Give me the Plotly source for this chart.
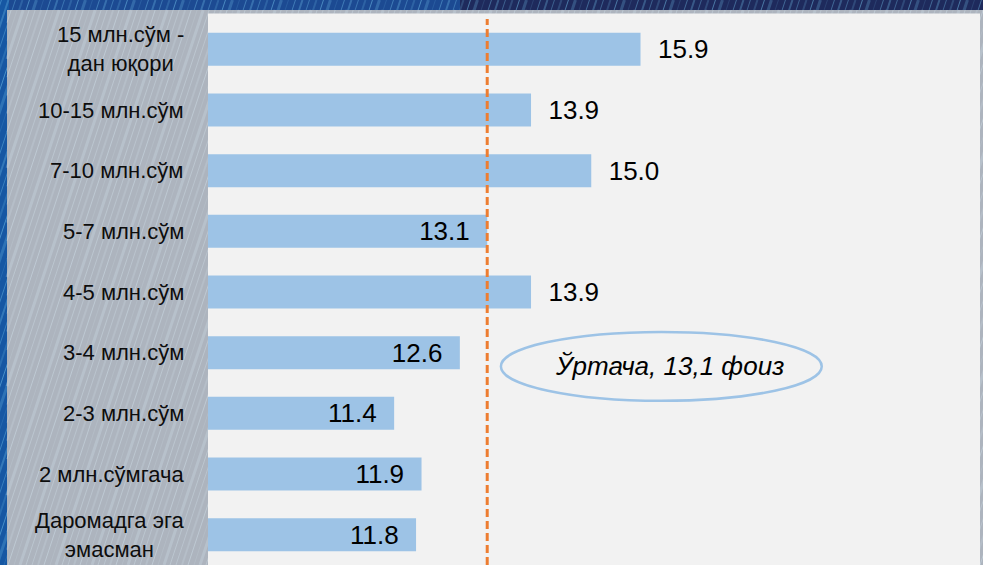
import plotly.graph_objects as go

categories = [
    "15 млн.сўм -<br>дан юқори",
    "10-15 млн.сўм",
    "7-10 млн.сўм",
    "5-7 млн.сўм",
    "4-5 млн.сўм",
    "3-4 млн.сўм",
    "2-3 млн.сўм",
    "2 млн.сўмгача",
    "Даромадга эга<br>эмасман",
]
values = [15.9, 13.9, 15.0, 13.1, 13.9, 12.6, 11.4, 11.9, 11.8]
average = 13.1
average_label = "Ўртача, 13,1 фоиз"

W, H = 983, 565
L, R, T, B = 208, 3, 19, 0
PW, PH = W - L - R, H - T - B

def px(X):
    return (X - L) / PW

def py(Y):
    return (H - B - Y) / PH

FONT = "Liberation Sans"
NB = "\u00a0"

positions = ["inside" if v <= average else "outside" for v in values]
texts = [(f"{v:.1f}" + NB * 2) if p == "inside" else (NB * 2 + f"{v:.1f}")
         for v, p in zip(values, positions)]

fig = go.Figure()
fig.add_trace(go.Bar(
    x=values, y=list(range(len(categories))), orientation="h",
    marker=dict(color="#9dc3e6", line=dict(width=0)),
    text=texts, textposition=positions, insidetextanchor="end",
    constraintext="none", cliponaxis=False,
    textfont=dict(family=FONT, size=26, color="#000000"),
    width=0.545, hoverinfo="skip",
))

shapes = []
# decorative background
shapes.append(dict(type="rect", xref="paper", yref="paper", x0=px(0), x1=px(460), y0=py(0), y1=py(12),
                   fillcolor="#1c4a92", line=dict(width=0), layer="below"))
shapes.append(dict(type="rect", xref="paper", yref="paper", x0=px(0), x1=px(9), y0=py(0), y1=py(H),
                   fillcolor="#1657a3", line=dict(width=0), layer="below"))
# stripes over the borders
for i, X in enumerate(range(-220, 1000, 7)):
    w = [1, 2, 1, 3, 1, 1, 2][i % 7]
    op = [0.35, 0.2, 0.5, 0.25, 0.15, 0.4, 0.3][i % 7]
    shapes.append(dict(type="line", xref="paper", yref="paper",
                       x0=px(X), y0=py(H), x1=px(X + 0.33 * H), y1=py(0),
                       line=dict(color=f"rgba(120,200,240,{op})", width=w), layer="below"))
# grey panel
shapes.append(dict(type="rect", xref="paper", yref="paper", x0=px(7), x1=px(W + 5), y0=py(10), y1=py(H + 5),
                   fillcolor="#adb4be", line=dict(width=0), layer="below"))
for i, X in enumerate(range(-220, 1000, 6)):
    w = [1, 2, 1, 1, 3, 1][i % 6]
    op = [0.3, 0.2, 0.4, 0.15, 0.25, 0.35][i % 6]
    x0, y0, x1, y1 = X, H, X + 0.33 * (H - 10), 10
    if x1 < 7:
        continue
    if x0 < 7:
        y0 = H - (7 - x0) / 0.33
        x0 = 7
    shapes.append(dict(type="line", xref="paper", yref="paper",
                       x0=px(x0), y0=py(y0), x1=px(x1), y1=py(y1),
                       line=dict(color=f"rgba(215,232,242,{op})", width=w), layer="below"))
# plot area
shapes.append(dict(type="rect", xref="paper", yref="paper", x0=0, x1=1, y0=0, y1=1.01,
                   fillcolor="#f2f2f2", line=dict(width=0), layer="below"))
# average line
shapes.append(dict(type="line", xref="x", yref="paper", x0=average, x1=average, y0=0, y1=1,
                   line=dict(color="#ed7d31", width=3, dash="8px,4px"), layer="above"))
# ellipse callout
shapes.append(dict(type="circle", xref="x", yref="y", x0=13.35, x1=19.21, y0=4.658, y1=5.794,
                   line=dict(color="#9dc3e6", width=2.5), fillcolor="rgba(0,0,0,0)", layer="above"))

annotations = []
for i, c in enumerate(categories):
    annotations.append(dict(x=0, xref="paper", y=i, yref="y", text=c, showarrow=False,
                            xanchor="right", yanchor="middle", xshift=-22, align="center",
                            font=dict(family=FONT, size=22, color="#0d0d0d")))
annotations.append(dict(x=16.43, xref="x", y=5.226, yref="y", text=f"<i>{average_label}</i>",
                        showarrow=False, xanchor="center", yanchor="middle",
                        font=dict(family=FONT, size=26, color="#000000")))

fig.update_layout(
    width=W, height=H,
    margin=dict(l=L, r=R, t=T, b=B, pad=0),
    paper_bgcolor="#1e2a5c", plot_bgcolor="rgba(0,0,0,0)",
    showlegend=False,
    xaxis=dict(range=[8, 8 + PW / 54.75], visible=False, fixedrange=True),
    yaxis=dict(range=[len(categories) - 0.5, -0.5], visible=False, fixedrange=True),
    shapes=shapes, annotations=annotations,
    bargap=0.455,
)

fig.write_html("out.html", config={"displayModeBar": False},
               post_script="document.body.style.margin='0';document.body.style.overflow='hidden';")
